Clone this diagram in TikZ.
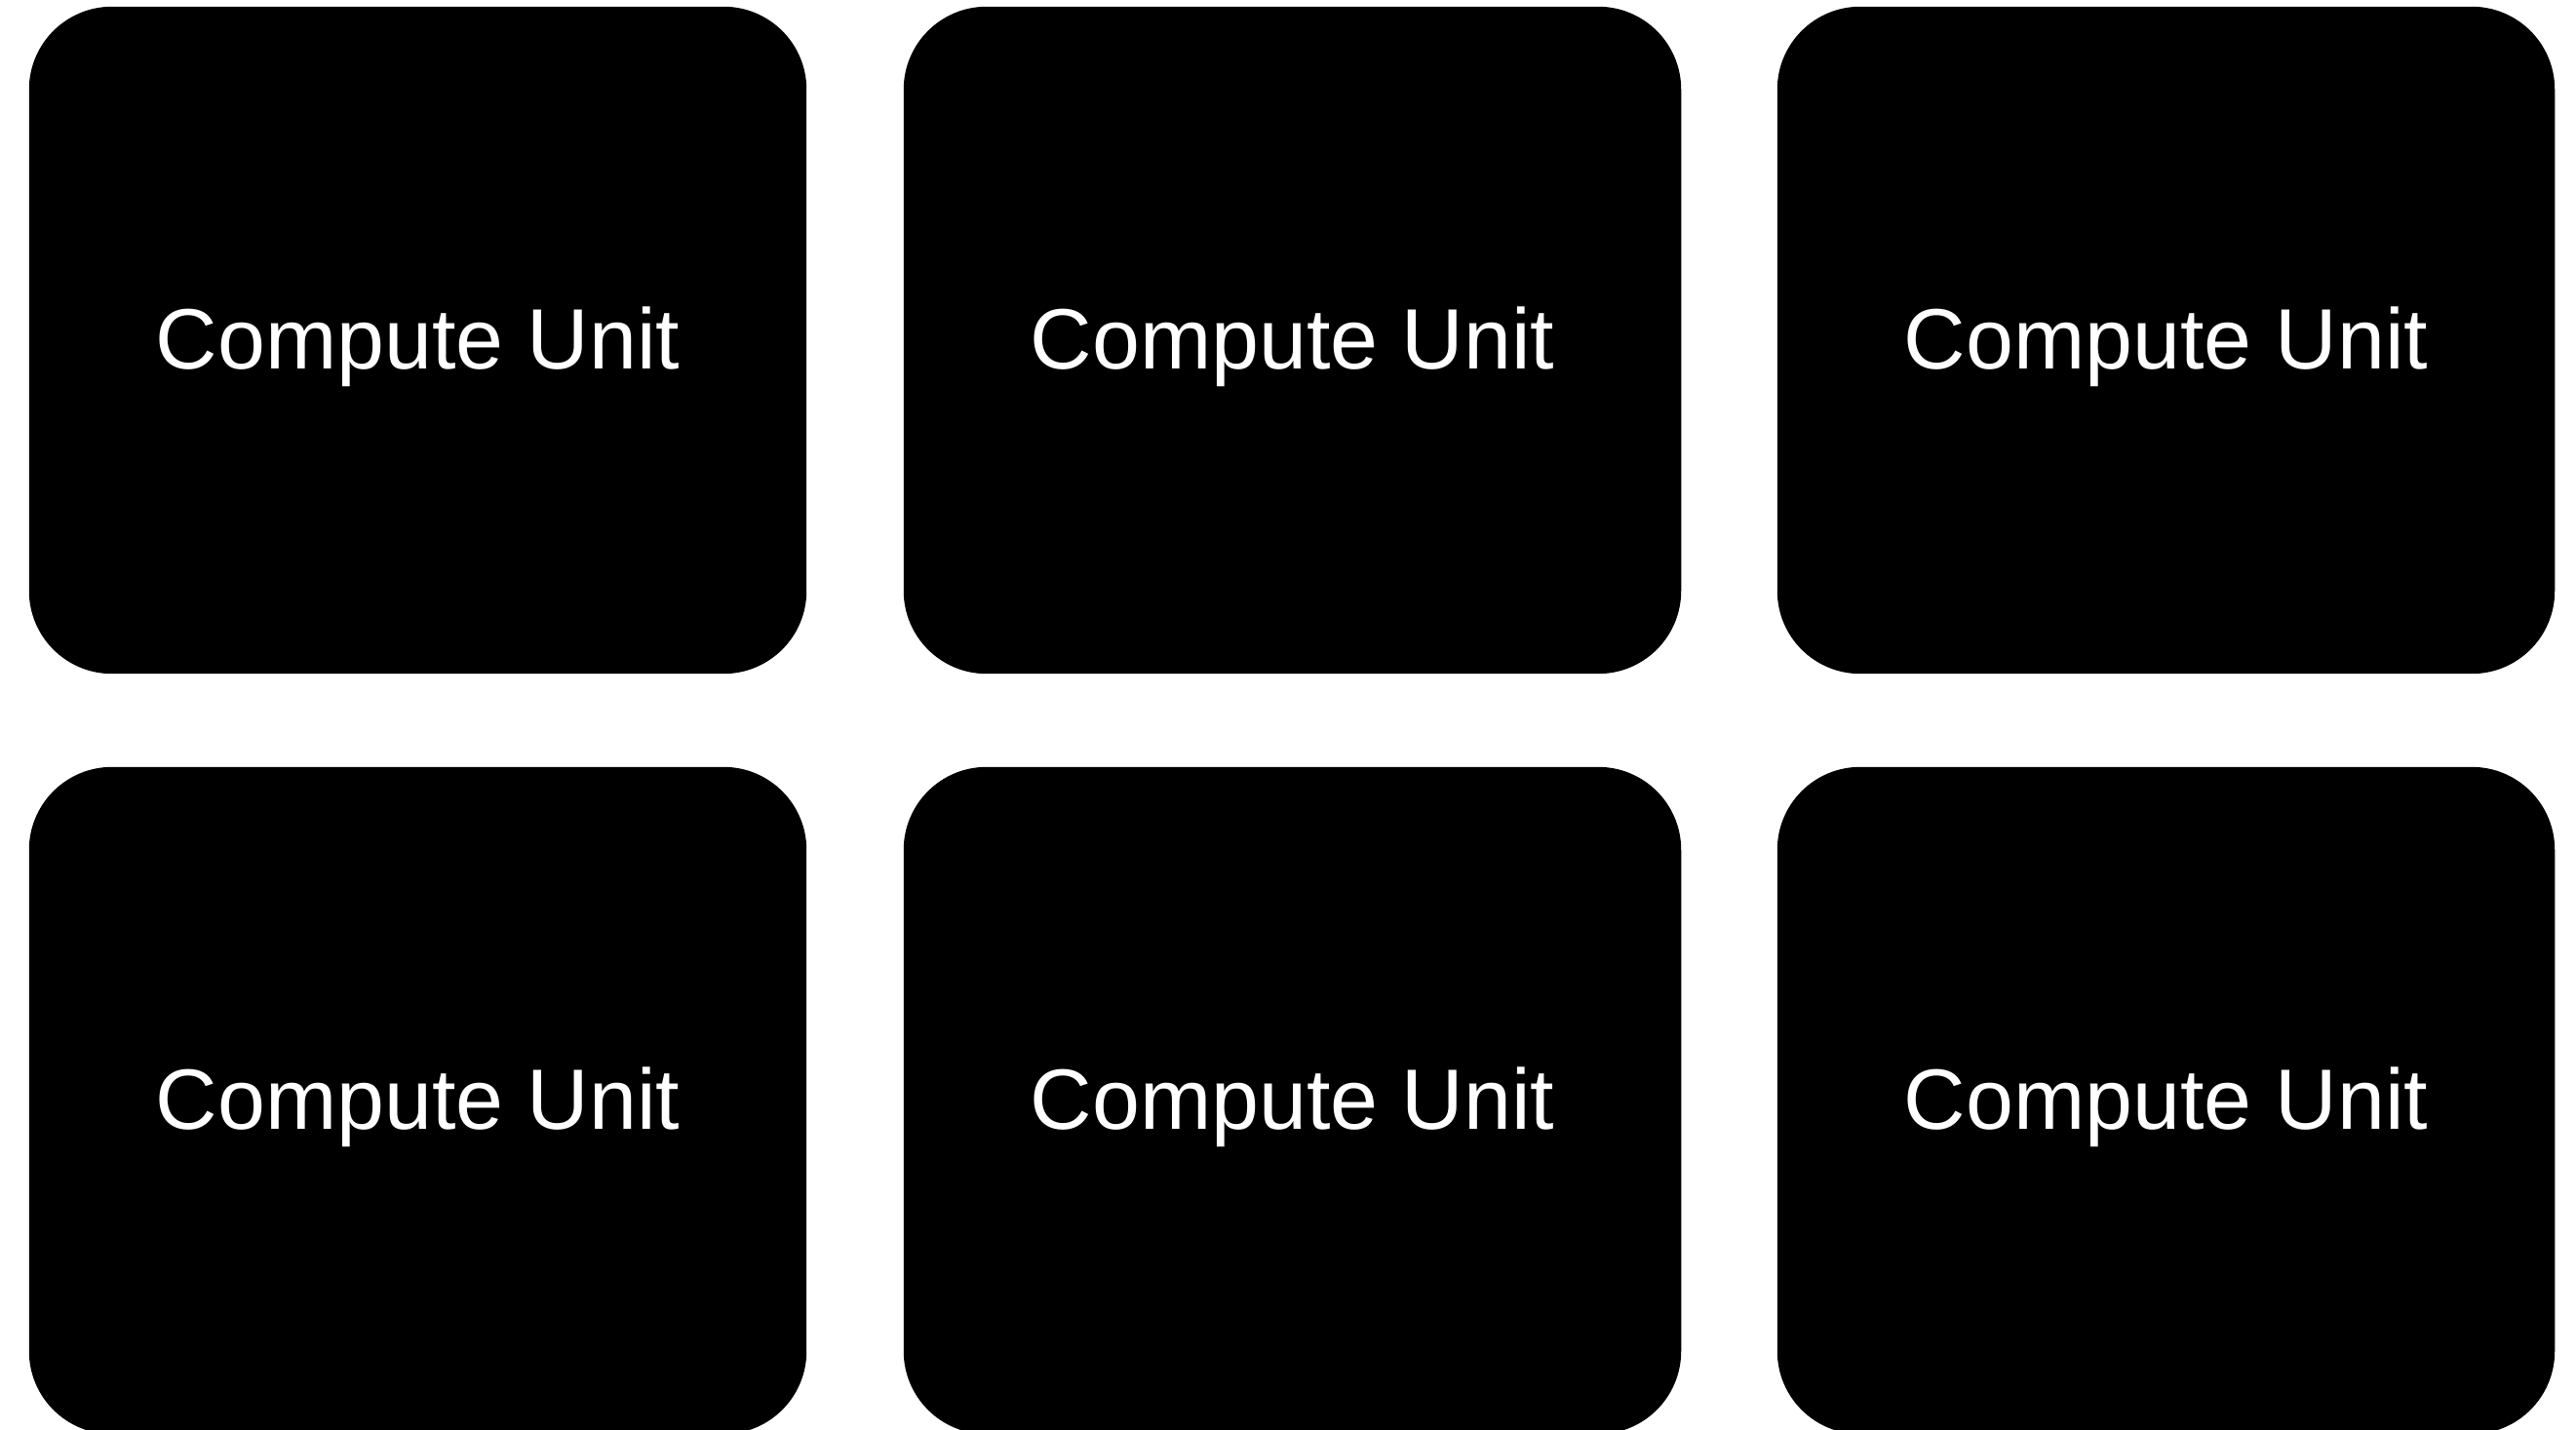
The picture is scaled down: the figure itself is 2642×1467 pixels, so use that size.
\documentclass[tikz,border=0pt]{standalone}
\usepackage{fontspec}
\setmainfont{Liberation Sans}
\usetikzlibrary{positioning}
\tikzset{
  cubox/.style={rectangle,fill=black,rounded corners=0.85cm,minimum width=7.97cm,minimum height=6.84cm,inner sep=0pt},
  culabel/.style={text=white,font=\fontsize{25}{30}\selectfont},
}

\begin{document}
\begin{tikzpicture}[x=0.01cm,y=-0.01cm]
  \useasboundingbox (0,0) rectangle (2642,1467);
  \node[cubox] (cu1) at (428.5,349) {}; \node[cubox] (cu2) at (1325.5,349) {}; \node[cubox] (cu3) at (2221.5,349) {};
  \node[cubox] (cu4) at (428.5,1129) {}; \node[cubox] (cu5) at (1325.5,1129) {}; \node[cubox] (cu6) at (2221.5,1129) {};
  \node[culabel,yshift=-0.07cm] (l1) at (cu1) {Compute Unit}; \node[culabel,yshift=-0.07cm] (l2) at (cu2) {Compute Unit}; \node[culabel,yshift=-0.07cm] (l3) at (cu3) {Compute Unit};
  \node[culabel,yshift=-0.07cm] (l4) at (cu4) {Compute Unit}; \node[culabel,yshift=-0.07cm] (l5) at (cu5) {Compute Unit}; \node[culabel,yshift=-0.07cm] (l6) at (cu6) {Compute Unit};
\end{tikzpicture}
\end{document}
